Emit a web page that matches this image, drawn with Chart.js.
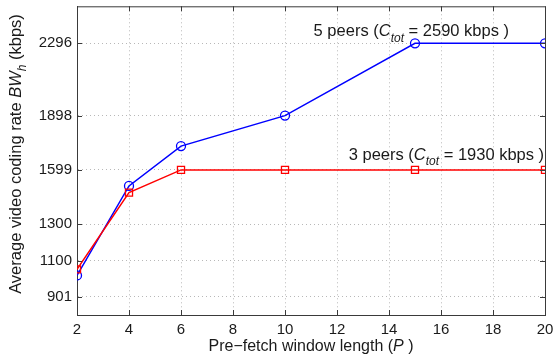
<!DOCTYPE html>
<html>
<head>
<meta charset="utf-8">
<script src="https://cdn.jsdelivr.net/npm/chart.js@4/dist/chart.umd.min.js"></script>
<style>
  html, body { margin: 0; padding: 0; background: #fff; }
  #wrap { width: 555px; height: 358px; }
</style>
</head>
<body>
<div id="wrap"><canvas id="myChart" width="555" height="358"></canvas></div>
<script>
// data
const windowLengths = [2, 4, 6, 10, 15, 20];
const peers5 = [1018, 1511, 1730, 1898, 2296, 2296];
const peers3 = [1051, 1474, 1599, 1599, 1599, 1599];
const yTicks = [901, 1100, 1300, 1599, 1898, 2296];
const xTicks = [2, 4, 6, 8, 10, 12, 14, 16, 18, 20];

const FONT = "'Liberation Sans', Arial, Helvetica, sans-serif";
const AXIS_COLOR = "#3a3a3a";

// text pieces: [text, italic, subscript]
const yTitle = [["Average video coding rate ", false, false], ["BW", true, false], ["h", true, true], [" (kbps)", false, false]];
const xTitle = [["Pre\u2212fetch window length (", false, false], ["P", true, false], [" )", false, false]];
const notes = [
  { x: 11.1, y: 2334, parts: [["5 peers (", false, false], ["C", true, false], ["tot", true, true], [" = 2590 kbps )", false, false]] },
  { x: 12.45, y: 1655, parts: [["3 peers (", false, false], ["C", true, false], ["tot", true, true], [" = 1930 kbps )", false, false]] },
];

function setFont(ctx, italic, sub, size) {
  ctx.font = (italic ? "italic " : "") + (sub ? Math.round(size * 0.72) : size) + "px " + FONT;
}

function richWidth(ctx, parts, size) {
  let w = 0;
  parts.forEach(([t, it, sub]) => { setFont(ctx, it, sub, size); w += ctx.measureText(t).width; });
  return w;
}

function drawRich(ctx, parts, x, y, size) {
  let cx = x;
  parts.forEach(([t, it, sub]) => {
    setFont(ctx, it, sub, size);
    ctx.fillText(t, cx, sub ? y + size * 0.33 : y);
    cx += ctx.measureText(t).width;
  });
}

const extras = {
  id: "extras",
  afterDraw(chart) {
    const { ctx, chartArea: a, scales } = chart;
    ctx.save();
    // frame top / right
    ctx.strokeStyle = AXIS_COLOR;
    ctx.lineWidth = 1;
    ctx.beginPath();
    ctx.moveTo(a.left, a.top + 0.5);
    ctx.lineTo(a.right + 0.5, a.top + 0.5);
    ctx.lineTo(a.right + 0.5, a.bottom);
    ctx.stroke();
    // inward tick marks
    ctx.beginPath();
    xTicks.forEach(v => {
      const px = Math.round(scales.x.getPixelForValue(v)) + 0.5;
      ctx.moveTo(px, a.bottom); ctx.lineTo(px, a.bottom - 5);
      ctx.moveTo(px, a.top); ctx.lineTo(px, a.top + 5);
    });
    yTicks.forEach(v => {
      const py = Math.round(scales.y.getPixelForValue(v)) + 0.5;
      ctx.moveTo(a.left, py); ctx.lineTo(a.left + 5, py);
      ctx.moveTo(a.right, py); ctx.lineTo(a.right - 5, py);
    });
    ctx.stroke();

    ctx.fillStyle = "#1a1a1a";
    ctx.textBaseline = "alphabetic";
    // annotations
    notes.forEach(n => {
      drawRich(ctx, n.parts, scales.x.getPixelForValue(n.x), scales.y.getPixelForValue(n.y), 16.5);
    });
    // x title
    const xw = richWidth(ctx, xTitle, 16);
    drawRich(ctx, xTitle, (a.left + a.right) / 2 - xw / 2, 351, 16);
    // y title
    const yw = richWidth(ctx, yTitle, 16.5);
    ctx.translate(21, 154);
    ctx.rotate(-Math.PI / 2);
    drawRich(ctx, yTitle, -yw / 2, 0, 16.5);
    ctx.restore();
  }
};

const ctx = document.getElementById("myChart").getContext("2d");
new Chart(ctx, {
  type: "line",
  data: {
    datasets: [
      {
        label: "3 peers",
        data: windowLengths.map((x, i) => ({ x, y: peers3[i] })),
        borderColor: "#ff0000",
        backgroundColor: "rgba(0,0,0,0)",
        borderWidth: 1.5,
        pointStyle: "rect",
        pointRadius: 5,
        pointBorderWidth: 1.3,
        tension: 0,
      },
      {
        label: "5 peers",
        data: windowLengths.map((x, i) => ({ x, y: peers5[i] })),
        borderColor: "#0000ff",
        backgroundColor: "rgba(0,0,0,0)",
        borderWidth: 1.5,
        pointStyle: "circle",
        pointRadius: 4.5,
        pointBorderWidth: 1.3,
        tension: 0,
      },
    ],
  },
  options: {
    responsive: false,
    animation: false,
    layout: { padding: { top: 5, right: 10, left: 0, bottom: 0 } },
    plugins: { legend: { display: false }, tooltip: { enabled: false } },
    scales: {
      x: {
        type: "linear",
        min: 2,
        max: 20,
        afterBuildTicks: s => { s.ticks = xTicks.map(v => ({ value: v })); },
        afterFit: s => { s.height = 43; s.paddingLeft = 0; s.paddingRight = 0; },
        ticks: { font: { family: FONT, size: 15 }, color: "#1a1a1a", padding: 6, callback: v => String(v) },
        grid: { color: "#b8b8b8", drawTicks: false },
        border: { color: AXIS_COLOR, width: 1, dash: [1, 3] },
      },
      y: {
        type: "linear",
        min: 800,
        max: 2500,
        afterBuildTicks: s => { s.ticks = yTicks.map(v => ({ value: v })); },
        afterFit: s => { s.width = 77; s.paddingTop = 0; s.paddingBottom = 0; },
        ticks: { font: { family: FONT, size: 15 }, color: "#1a1a1a", padding: 5, callback: v => String(v) },
        grid: { color: "#b8b8b8", drawTicks: false },
        border: { color: AXIS_COLOR, width: 1, dash: [1, 3] },
      },
    },
  },
  plugins: [extras],
});
</script>
</body>
</html>
